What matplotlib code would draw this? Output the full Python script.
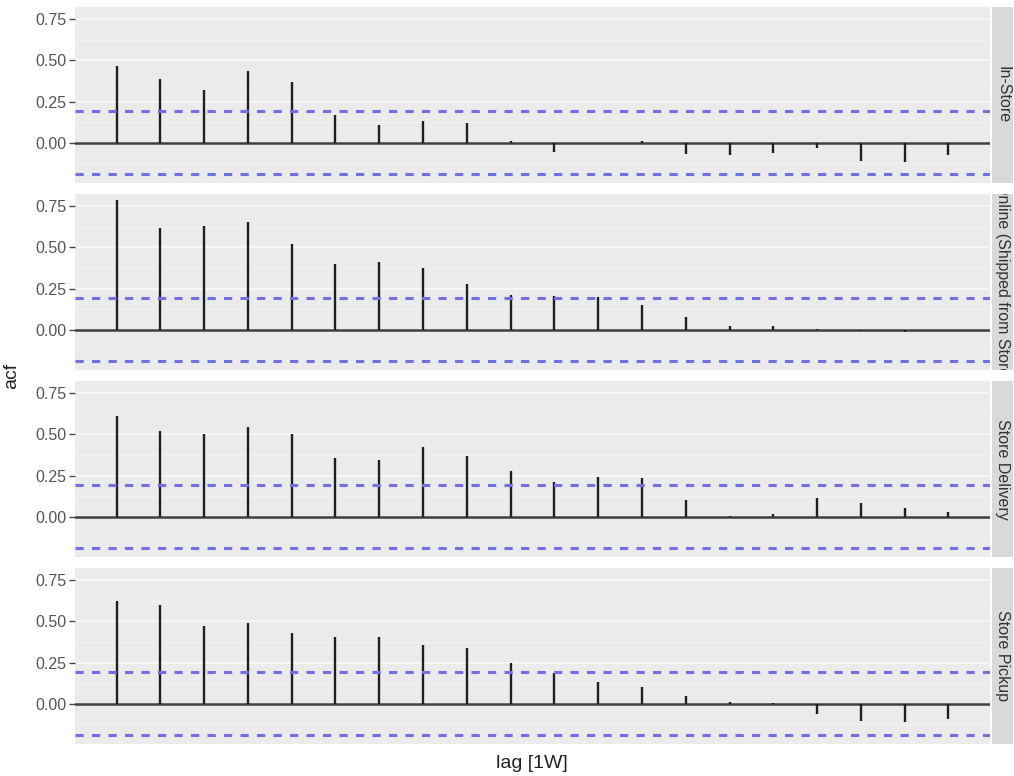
import matplotlib

matplotlib.use("Agg")
import matplotlib.pyplot as plt

plt.rcParams["font.family"] = ["Liberation Sans", "DejaVu Sans"]

# ACF values per channel, lags 1..20
lags = [1, 2, 3, 4, 5, 6, 7, 8, 9, 10, 11, 12, 13, 14, 15, 16, 17, 18, 19, 20]
channels = ["In-Store", "Online (Shipped from Store)", "Store Delivery", "Store Pickup"]
acf_in_store = [0.466, 0.39, 0.32, 0.435, 0.366, 0.166, 0.11, 0.13, 0.122, 0.01,
                -0.056, -0.003, 0.01, -0.066, -0.072, -0.062, -0.032, -0.11, -0.116, -0.072]
acf_online = [0.787, 0.618, 0.628, 0.653, 0.523, 0.40, 0.41, 0.375, 0.28, 0.21,
              0.207, 0.20, 0.149, 0.079, 0.025, 0.02, 0.003, -0.01, -0.012, 0.0]
acf_delivery = [0.61, 0.522, 0.50, 0.542, 0.502, 0.356, 0.346, 0.422, 0.366, 0.28,
                0.21, 0.24, 0.235, 0.10, 0.003, 0.016, 0.112, 0.082, 0.051, 0.031]
acf_pickup = [0.626, 0.597, 0.475, 0.489, 0.432, 0.408, 0.408, 0.357, 0.336, 0.25,
              0.187, 0.135, 0.104, 0.046, 0.012, 0.004, -0.062, -0.104, -0.108, -0.094]
conf_bound = 0.19
y_ticks = [0.0, 0.25, 0.5, 0.75]
y_tick_labels = ["0.00", "0.25", "0.50", "0.75"]

W, H = 1014, 776
fig = plt.figure(figsize=(W / 100, H / 100), dpi=100)


def px_axes(left, top, right, bottom):
    # place an axes using pixel coords measured from the top-left corner
    return fig.add_axes([left / W, 1 - bottom / H, (right - left) / W, (bottom - top) / H])


all_acf = [acf_in_store, acf_online, acf_delivery, acf_pickup]
for i, (name, vals) in enumerate(zip(channels, all_acf)):
    top = 7 + i * 187
    bottom = top + 176

    ax = px_axes(75, top, 990, bottom)
    ax.set_facecolor("#EBEBEB")
    ax.set_xlim(0.05, 20.95)
    ax.set_ylim(-0.244, 0.824)
    ax.set_yticks(y_ticks)
    ax.set_yticklabels(y_tick_labels)
    ax.set_yticks([-0.125, 0.125, 0.375, 0.625], minor=True)
    ax.set_xticks([])
    ax.grid(which="major", axis="y", color="#FAFAFA", linewidth=1.1)
    ax.grid(which="minor", axis="y", color="#F5F5F5", linewidth=0.55)
    ax.set_axisbelow(True)
    for spine in ax.spines.values():
        spine.set_visible(False)
    ax.tick_params(axis="y", which="major", length=4, width=1, color="#444444",
                   labelcolor="#555555", labelsize=11.5, pad=2)
    ax.tick_params(axis="y", which="minor", length=0)

    ax.axhline(0, color="#3f3f3f", linewidth=1.8, zorder=2)
    ax.vlines(lags, 0, vals, color="#1f1f1f", linewidth=1.7, zorder=3)
    for b in (conf_bound, -conf_bound):
        ax.axhline(b, color="#7070e0", linewidth=2.2, dashes=(2.7, 2.7), zorder=4)

    # facet strip on the right
    sx = px_axes(992, top, 1013, bottom)
    sx.set_facecolor("#D9D9D9")
    sx.set_xticks([])
    sx.set_yticks([])
    for spine in sx.spines.values():
        spine.set_visible(False)
    sx.text(0.5, 0.5, name, rotation=-90, ha="center", va="center",
            fontsize=11.5, color="#333333", transform=sx.transAxes, clip_on=True)

fig.text(12 / W, 1 - 375.5 / H, "acf", rotation=90, ha="center", va="center",
         fontsize=14, color="#222222")
fig.text(532 / W, 1 - 763 / H, "lag [1W]", ha="center", va="center",
         fontsize=14, color="#222222")

fig.savefig("out.png", dpi=100, facecolor="white")
